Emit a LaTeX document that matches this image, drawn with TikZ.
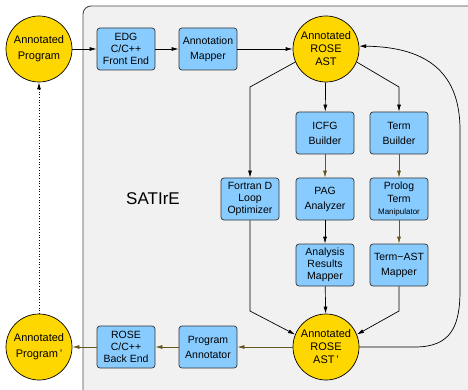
\documentclass[tikz,border=0pt]{standalone}
\usepackage{fontspec}
\setmainfont{Liberation Sans}
\usetikzlibrary{arrows.meta}
\definecolor{gold}{HTML}{FFD700}
\definecolor{sky}{HTML}{88CCFF}
\definecolor{panel}{HTML}{F1F1F1}
\definecolor{olivearr}{HTML}{66561F}
\begin{document}
\begin{tikzpicture}[x=1pt,y=-1pt,
  circ/.style={circle, draw=black, line width=0.7pt, fill=gold, minimum size=66pt, inner sep=0pt, align=center, font=\fontsize{11}{13}\selectfont},
  box/.style={rounded corners=3pt, draw=black!80, line width=0.7pt, fill=sky, minimum width=58pt, minimum height=42pt, inner sep=0pt, align=center, font=\fontsize{10.5}{12}\selectfont},
  arr/.style={-{Latex[length=7pt,width=4pt]}, line width=0.7pt},
  oarr/.style={arr, draw=olivearr},
]
\useasboundingbox (0,0) rectangle (468,390);
\begin{scope}
\clip (0,0) rectangle (468,390);
\fill[white] (0,0) rectangle (468,390);
\draw[draw=black!70, line width=0.9pt, fill=panel, rounded corners=8pt] (83,6) rectangle (490,410);
\end{scope}

\node[font=\fontsize{17}{20}\selectfont] (sat) at (153,199) {SATIrE};

\node[circ] (ap) at (39,49) {Annotated\\[3pt]Program};
\node[circ] (ast) at (326,49) {Annotated\\ROSE\\AST};
\node[circ] (ap2) at (39,347) {Annotated\\[3pt]Program\,'};
\node[circ] (ast2) at (326,347) {Annotated\\ROSE\\AST\,'};

\node[box] (edg) at (126,49) {EDG\\C/C++\\Front End};
\node[box] (am) at (208,49) {Annotation\\[3pt]Mapper};
\node[box] (icfg) at (325,133) {ICFG\\[3pt]Builder};
\node[box] (tb) at (399,133) {Term\\[3pt]Builder};
\node[box] (fort) at (250,199) {Fortran D\\Loop\\Optimizer};
\node[box] (pag) at (325,199) {PAG\\[3pt]Analyzer};
\node[box] (ptm) at (399,199) {Prolog\\[1pt]Term\\{\fontsize{8}{10}\selectfont Manipulator}};
\node[box] (arm) at (325,265) {Analysis\\Results\\Mapper};
\node[box] (tam) at (399,265) {Term−AST\\[3pt]Mapper};
\node[box] (be) at (126,347) {ROSE\\C/C++\\Back End};
\node[box] (pa) at (208,347) {Program\\[3pt]Annotator};

\coordinate (c1) at (250,87);
\coordinate (c2) at (399,87);
\coordinate (c3) at (250,311);
\coordinate (c4) at (399,311);

\draw[arr] (ap) -- (edg);
\draw[arr] (edg) -- (am);
\draw[arr] (am) -- (ast);
\draw[arr] (ast) -- (icfg);
\draw[arr] (ast.203) -- (c1) -- (fort);
\draw[arr] (ast.337) -- (c2) -- (tb);
\draw[oarr] (icfg) -- (pag);
\draw[arr] (pag) -- (arm);
\draw[oarr] (tb) -- (ptm);
\draw[oarr] (ptm) -- (tam);
\draw[arr] (arm) -- (ast2);
\draw[arr] (fort) -- (c3) -- (ast2.158);
\draw[arr] (tam) -- (c4) -- (ast2.22);
\draw[oarr] (ast2) -- (pa);
\draw[oarr] (pa) -- (be);
\draw[oarr] (be) -- (ap2);
\draw[arr, dotted] (ap2) -- (ap);
\draw[arr] (ast2.east) -- (415,347) .. controls (452,347) and (460,325) .. (460,290) -- (460,130) .. controls (460,75) and (430,47) .. (ast.5);
\end{tikzpicture}
\end{document}
